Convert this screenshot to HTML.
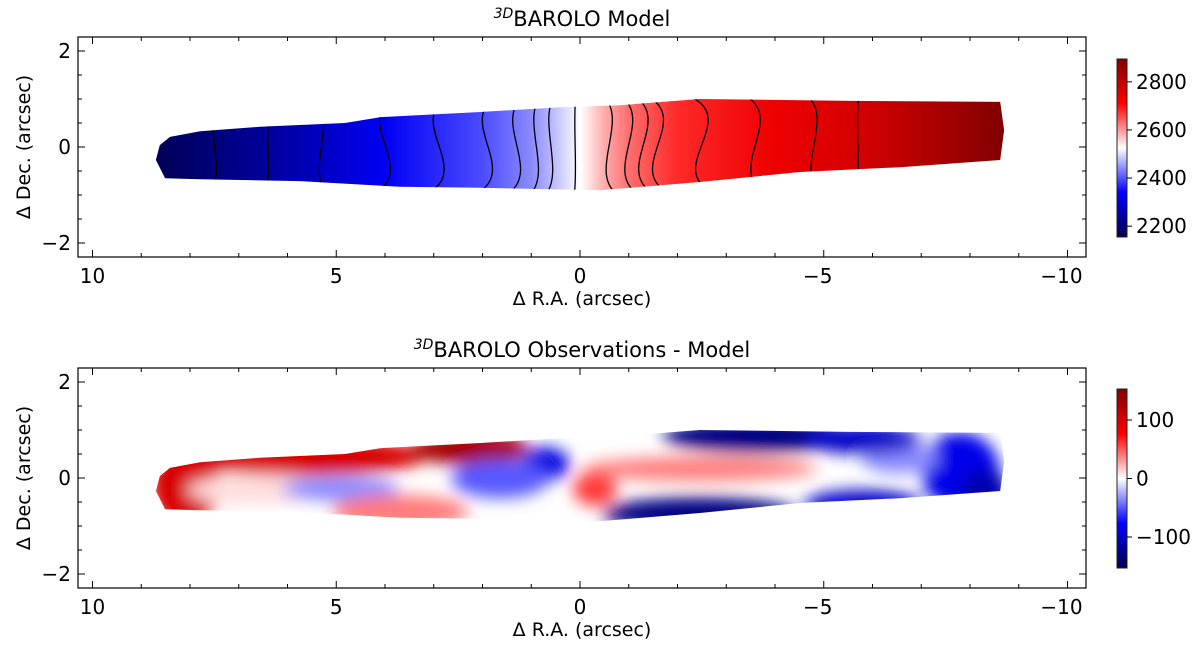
<!DOCTYPE html>
<html><head><meta charset="utf-8">
<style>
html,body{margin:0;padding:0;background:#fff;}
svg{display:block;font-family:"DejaVu Sans","Liberation Sans",sans-serif;}
</style></head>
<body>
<svg id="fig" width="1200" height="646" viewBox="0 0 1200 646" xmlns="http://www.w3.org/2000/svg">
<defs id="defs">
<filter id="blur" x="-20%" y="-50%" width="140%" height="200%"><feGaussianBlur stdDeviation="8"/></filter>
</defs>
</svg>
<script>
// ---- data ----
const xTicks = [10, 5, 0, -5, -10];
const yTicks = [2, 0, -2];
const cbTicksModel = [2200, 2400, 2600, 2800];
const cbTicksResid = [-100, 0, 100];
const modelRange = [2155, 2895];
const residRange = [-153, 153];
// galaxy outline (R.A., Dec) in arcsec
const outlineRA  = [8.70,8.62,8.41,7.79,6.56,4.82,4.10,2.05,0.41,-0.82,-2.46,-5.54,-8.62,-8.70,-8.62,-6.56,-4.51,-2.46,-0.41,2.05,3.69,5.74,7.79,8.51];
const outlineDec = [-0.27,0.04,0.21,0.33,0.42,0.50,0.62,0.73,0.83,0.87,1.00,0.96,0.94,0.35,-0.27,-0.42,-0.52,-0.73,-0.90,-0.85,-0.83,-0.71,-0.67,-0.65];
// model velocity along R.A.
const velRA  = [8.7, 6.0, 4.0, 2.0, 1.0, 0.5, 0.0, -0.5, -1.0, -2.0, -4.0, -6.0, -7.5, -8.7];
const velVal = [2165, 2250, 2330, 2395, 2440, 2480, 2525, 2585, 2630, 2680, 2735, 2780, 2840, 2895];
// isovelocity contours: centre R.A. and S-bend amplitude
const contourRA   = [7.5, 6.4, 5.3, 4.0, 2.9, 1.9, 1.3, 0.9, 0.6, 0.1, -0.6, -1.0, -1.3, -1.6, -2.5, -3.6, -4.8, -5.7];
const contourBend = [0.5, 0.1, -0.6, 1.4, 1.4, 1.3, 1.0, 0.6, 0.5, 0.1, -0.8, -1.0, -1.2, -1.4, -1.6, -1.2, -0.8, 0.1];
// residual blobs
const blobRA  = [8.1, 5.74, 2.26, 6.56, 4.92, 0.72, 1.64, -0.31, -2.46, -3.69, -2.46, -7.8, -6.56, 3.69, -5.8, -5.8, -8.3];
const blobDec = [-0.13, 0.45, 0.62, -0.25, -0.23, 0.29, -0.02, -0.23, 0.19, 0.88, -0.75, 0.15, 0.40, -0.70, 0.80, -0.55, -0.3];
const blobRx  = [0.7, 2.6, 1.2, 1.5, 1.2, 0.5, 1.0, 0.45, 2.4, 2.0, 2.0, 0.8, 0.8, 1.4, 1.2, 1.2, 0.5];
const blobRy  = [0.9, 0.4, 0.35, 0.3, 0.25, 0.35, 0.4, 0.35, 0.25, 0.35, 0.35, 0.8, 0.3, 0.35, 0.3, 0.3, 0.5];
const blobVal = [100, 100, 130, 10, -35, -90, -50, 60, 40, -130, -130, -85, -35, 40, -100, -100, -110];

// ---- layout ----
const NS = "http://www.w3.org/2000/svg";
const svg = document.getElementById('fig');
const defs = document.getElementById('defs');
const AX = {l: 78, r: 1086};
const panels = [
  {top: 37, bottom: 257, y0: 147, title: "Model", cbTop: 59, cbBot: 237},
  {top: 368, bottom: 588, y0: 478, title: "Observations - Model", cbTop: 389, cbBot: 568}
];
const pxRA = 48.75, pxDec = 48;
function X(ra){ return 580 - ra*pxRA; }
function Y(p, dec){ return p.y0 - dec*pxDec; }
function el(tag, attrs, parent){ const e = document.createElementNS(NS, tag); for (const k in attrs) e.setAttribute(k, attrs[k]); (parent||svg).appendChild(e); return e; }

function seismic(t){
  t = Math.max(0, Math.min(1, t));
  let r, g, b;
  if (t < 0.25){ const u = t/0.25; r = 0; g = 0; b = 0.3 + 0.7*u; }
  else if (t < 0.5){ const u = (t-0.25)/0.25; r = u; g = u; b = 1; }
  else if (t < 0.75){ const u = (t-0.5)/0.25; r = 1; g = 1-u; b = 1-u; }
  else { const u = (t-0.75)/0.25; r = 1 - 0.5*u; g = 0; b = 0; }
  return `rgb(${Math.round(r*255)},${Math.round(g*255)},${Math.round(b*255)})`;
}

function outlinePath(p){
  return outlineRA.map((ra,i)=> (i?'L':'M') + X(ra).toFixed(1) + ',' + Y(p, outlineDec[i]).toFixed(1)).join(' ') + ' Z';
}

panels.forEach((p, i) => {
  const cp = el('clipPath', {id: 'gal' + i}, defs);
  el('path', {d: outlinePath(p)}, cp);
});

const grad = el('linearGradient', {id: 'velgrad', gradientUnits: 'userSpaceOnUse', x1: X(velRA[0]), y1: 0, x2: X(velRA[velRA.length-1]), y2: 0}, defs);
const gx0 = X(velRA[0]), gx1 = X(velRA[velRA.length-1]);
velRA.forEach((ra, i) => {
  const t = (velVal[i] - modelRange[0])/(modelRange[1]-modelRange[0]);
  el('stop', {offset: ((X(ra)-gx0)/(gx1-gx0)).toFixed(4), 'stop-color': seismic(t)}, grad);
});

['cbg0','cbg1'].forEach(id => {
  const g = el('linearGradient', {id: id, x1: 0, y1: 1, x2: 0, y2: 0}, defs);
  for (let k = 0; k <= 20; k++) el('stop', {offset: k/20, 'stop-color': seismic(k/20)}, g);
});

// ---- panel 1: model ----
(function(){
  const p = panels[0];
  const g = el('g', {'clip-path': 'url(#gal0)'});
  
  
  el('rect', {x: 100, y: p.top, width: 960, height: 220, fill: 'url(#velgrad)'}, g);
  const top = Y(p, 1.05), bot = Y(p, -0.95), mid = (top+bot)/2;
  contourRA.forEach((ra, i) => {
    const x = X(ra), s = contourBend[i]*pxRA*0.5;
    const path = el('path', {d: `M${x+s*0.3},${top} C${x-s},${mid-25} ${x+s},${mid+25} ${x-s*0.3},${bot}`, fill: 'none', stroke: '#000', 'stroke-width': 1.3}, g);
    
    
  });
})();

// ---- panel 2: residual ----
(function(){
  const p = panels[1];
  const g = el('g', {'clip-path': 'url(#gal1)'});
  
  
  el('rect', {x: 100, y: p.top, width: 960, height: 220, fill: '#fff'}, g);
  const bg = el('g', {filter: 'url(#blur)'}, g);
  blobRA.forEach((ra, i) => {
    const t = (blobVal[i] - residRange[0])/(residRange[1]-residRange[0]);
    const e = el('ellipse', {cx: X(ra), cy: Y(p, blobDec[i]), rx: blobRx[i]*pxRA, ry: blobRy[i]*pxDec, fill: seismic(t)}, bg);
    
    
  });
})();

// ---- axes ----
panels.forEach((p, pi) => {
  const ax = el('g', {});
  
  
  el('rect', {x: AX.l, y: p.top, width: AX.r-AX.l, height: p.bottom-p.top, fill: 'none', stroke: '#000', 'stroke-width': 1.2}, ax);
  for (let v = 10; v >= -10; v--) {
    const x = X(v), L = (v % 5 === 0) ? 7 : 4;
    el('line', {x1: x, x2: x, y1: p.bottom, y2: p.bottom - L, stroke: '#000', 'stroke-width': 1}, ax);
    el('line', {x1: x, x2: x, y1: p.top, y2: p.top + L, stroke: '#000', 'stroke-width': 1}, ax);
  }
  xTicks.forEach(v => {
    const t = el('text', {x: X(v) + (v < 0 ? -6 : 0), y: p.bottom + 26, 'font-size': 20, 'text-anchor': 'middle'}, ax);
    t.textContent = v < 0 ? '\u2212' + (-v) : String(v);
    
    
  });
  for (let v = -2; v <= 2.001; v += 0.5) {
    const y = Y(p, v), L = (Math.abs(v % 2) < 1e-6) ? 7 : 4;
    el('line', {x1: AX.l, x2: AX.l + L, y1: y, y2: y, stroke: '#000', 'stroke-width': 1}, ax);
    el('line', {x1: AX.r, x2: AX.r - L, y1: y, y2: y, stroke: '#000', 'stroke-width': 1}, ax);
  }
  yTicks.forEach(v => {
    const t = el('text', {x: AX.l - 7, y: Y(p, v) + 7, 'font-size': 20, 'text-anchor': 'end'}, ax);
    t.textContent = v < 0 ? '\u2212' + (-v) : String(v);
    
    
  });
  const xl = el('text', {x: 582, y: p.bottom + 48, 'font-size': 19, 'text-anchor': 'middle'}, ax);
  xl.textContent = '\u0394 R.A. (arcsec)';
  
  
  const yl = el('text', {x: 0, y: 0, 'font-size': 19, 'text-anchor': 'middle', transform: `translate(30,${p.y0}) rotate(-90)`}, ax);
  yl.textContent = '\u0394 Dec. (arcsec)';
  
  
  const tt = el('text', {x: 582, y: p.top - 11, 'font-size': 21, 'text-anchor': 'middle'}, ax);
  
  
  const sup = el('tspan', {'font-size': 14, dy: -8, 'font-style': 'italic'}, tt); sup.textContent = '3D';
  const rest = el('tspan', {dy: 8}, tt); rest.textContent = 'BAROLO ' + p.title;

  const cb = el('g', {});
  
  
  el('rect', {x: 1117, y: p.cbTop, width: 10, height: p.cbBot - p.cbTop, fill: `url(#cbg${pi})`, stroke: '#222', 'stroke-width': 1}, cb);
  const rng = pi ? residRange : modelRange, ticks = pi ? cbTicksResid : cbTicksModel;
  ticks.forEach(v => {
    const y = p.cbBot - (v - rng[0])/(rng[1]-rng[0])*(p.cbBot - p.cbTop);
    el('line', {x1: 1127, x2: 1132, y1: y, y2: y, stroke: '#000', 'stroke-width': 1}, cb);
    const t = el('text', {x: 1136, y: y + 7, 'font-size': 20}, cb);
    t.textContent = v < 0 ? '\u2212' + (-v) : String(v);
    
    
  });
});
</script>
</body></html>
